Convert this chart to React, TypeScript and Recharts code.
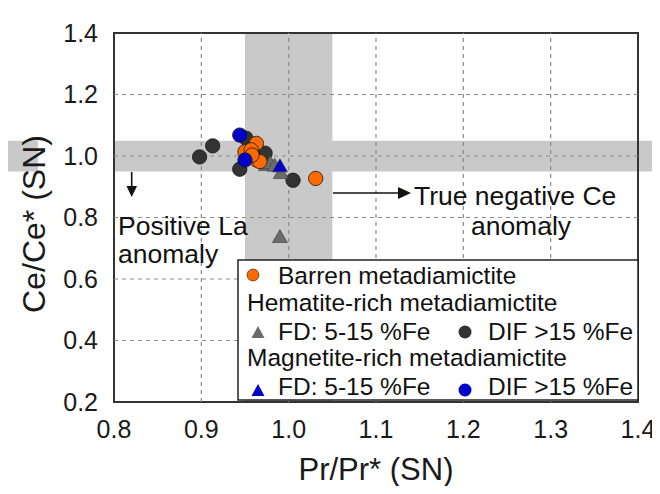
import React from "react";
import { ScatterChart, Scatter, XAxis, YAxis, ReferenceArea, ReferenceLine, Label } from "recharts";

// axis ticks
const xTicks = [0.8, 0.9, 1.0, 1.1, 1.2, 1.3, 1.4];
const yTicks = [0.2, 0.4, 0.6, 0.8, 1.0, 1.2, 1.4];

// Barren metadiamictite
const barrenPr = [0.963, 0.95, 0.957, 0.963, 0.967, 0.958, 1.031];
const barrenCe = [1.041, 1.014, 1.02, 0.987, 0.982, 1.003, 0.927];

// Hematite-rich, FD 5-15 %Fe
const hemFdPr = [0.974, 0.979, 0.984, 0.991, 0.99];
const hemFdCe = [0.972, 0.978, 0.97, 0.946, 0.738];

// Hematite-rich, DIF >15 %Fe
const hemDifPr = [0.898, 0.913, 0.951, 0.944, 0.973, 0.96, 1.005];
const hemDifCe = [0.997, 1.033, 1.058, 0.957, 1.009, 0.998, 0.921];

// Magnetite-rich, FD 5-15 %Fe
const magFdPr = [0.99];
const magFdCe = [0.968];

// Magnetite-rich, DIF >15 %Fe
const magDifPr = [0.944, 0.95];
const magDifCe = [1.068, 0.987];

const toPoints = (xs: number[], ys: number[]) => xs.map((x, i) => ({ x, y: ys[i] }));

const FONT = "'Liberation Sans', Arial, Helvetica, sans-serif";
const ORANGE = "#ff6a00";
const DARK = "#333333";
const GREY = "#6b6b6b";
const BLUE = "#0000c8";
const BAND = "#c9c9c9";

const dot = (fill: string) => (p: any) => (
  <circle cx={p.cx} cy={p.cy} r={7.2} fill={fill} stroke="#1a1a1a" strokeWidth={0.8} />
);

const tri = (fill: string) => (p: any) => (
  <polygon
    points={`${p.cx - 7.5},${p.cy + 6} ${p.cx + 7.5},${p.cy + 6} ${p.cx},${p.cy - 7}`}
    fill={fill}
    stroke="#3a3a3a"
    strokeWidth={0.6}
  />
);

const tickStyle = { fontSize: 25, fill: "#1a1a1a", fontFamily: FONT };

export default function App() {
  return (
    <div style={{ position: "relative", width: 660, height: 494, margin: -8, background: "#fff", fontFamily: FONT }}>
      <ScatterChart width={660} height={494} margin={{ top: 33, right: 22, bottom: 0, left: 0 }}>
        <XAxis
          type="number"
          dataKey="x"
          domain={[0.8, 1.4]}
          ticks={xTicks}
          tickFormatter={(v) => v.toFixed(1)}
          axisLine={false}
          tickLine={false}
          tickMargin={12}
          height={92}
          tick={tickStyle}
          allowDataOverflow
        >
          <Label value="Pr/Pr* (SN)" position="insideBottom" offset={14} style={{ fontSize: 31, fill: "#1a1a1a", fontFamily: FONT }} />
        </XAxis>
        <YAxis
          type="number"
          dataKey="y"
          domain={[0.2, 1.4]}
          ticks={yTicks}
          tickFormatter={(v) => v.toFixed(1)}
          axisLine={false}
          tickLine={false}
          tickMargin={10}
          width={114}
          tick={tickStyle}
          allowDataOverflow
        />

        {/* grey bands */}
        <ReferenceArea x1={0.95} x2={1.05} y1={0.2} y2={1.4} fill={BAND} fillOpacity={1} stroke="none" />
        <ReferenceArea x1={0.8} x2={1.42} y1={0.95} y2={1.05} fill={BAND} fillOpacity={1} stroke="none" ifOverflow="visible" />
        <ReferenceArea x1={0.675} x2={0.713} y1={0.95} y2={1.05} fill={BAND} fillOpacity={1} stroke="none" ifOverflow="visible" />

        {/* dashed grid on top of the bands */}
        {xTicks.slice(1, -1).map((v) => (
          <ReferenceLine key={"gx" + v} x={v} stroke="#8a8a8a" strokeWidth={1.2} strokeDasharray="4 4" />
        ))}
        {yTicks.slice(1, -1).map((v) => (
          <ReferenceLine key={"gy" + v} y={v} stroke="#8a8a8a" strokeWidth={1.2} strokeDasharray="4 4" />
        ))}

        {/* plot frame */}
        <ReferenceArea x1={0.8} x2={1.4} y1={0.2} y2={1.4} fill="none" stroke="#333" strokeWidth={2} />

        <Scatter data={toPoints(hemDifPr, hemDifCe)} shape={dot(DARK)} isAnimationActive={false} />
        <Scatter data={toPoints(hemFdPr, hemFdCe)} shape={tri(GREY)} isAnimationActive={false} />
        <Scatter data={toPoints(barrenPr, barrenCe)} shape={dot(ORANGE)} isAnimationActive={false} />
        <Scatter data={toPoints(magFdPr, magFdCe)} shape={tri(BLUE)} isAnimationActive={false} />
        <Scatter data={toPoints(magDifPr, magDifCe)} shape={dot(BLUE)} isAnimationActive={false} />
      </ScatterChart>

      <svg width={660} height={494} style={{ position: "absolute", left: 0, top: 0, pointerEvents: "none" }} fontFamily={FONT}>
        <rect x={5.5} y={5.5} width={649} height={483} fill="none" stroke="#c4c4c4" strokeWidth={1} />

        <text transform="translate(45,224) rotate(-90)" textAnchor="middle" fontSize={32} fill="#1a1a1a">
          Ce/Ce* (SN)
        </text>

        {/* annotations */}
        <line x1={131.7} y1={172} x2={131.7} y2={188} stroke="#111" strokeWidth={1.6} />
        <polygon points="126.5,186 137,186 131.7,197" fill="#111" />
        <text x={118} y={235} fontSize={26.5} fill="#111">Positive La</text>
        <text x={118} y={263} fontSize={26.5} fill="#111">anomaly</text>

        <line x1={333} y1={193} x2={400} y2={193} stroke="#111" strokeWidth={1.6} />
        <polygon points="398,187 398,199 411,193" fill="#111" />
        <text x={414} y={205} fontSize={26.5} fill="#111">True negative Ce</text>
        <text x={521} y={235} fontSize={26.5} fill="#111" textAnchor="middle">anomaly</text>

        {/* legend */}
        <g transform="translate(238,260)">
          <rect x={0} y={0} width={400} height={140} fill="#fff" stroke="#222" strokeWidth={1.5} />
          <circle cx={15} cy={15} r={6} fill={ORANGE} stroke="#1a1a1a" strokeWidth={0.6} />
          <text x={40} y={24} fontSize={24.5} fill="#111">Barren metadiamictite</text>
          <text x={9} y={51} fontSize={24.5} fill="#111">Hematite-rich metadiamictite</text>
          <polygon points="13.5,78 26.5,78 20,66" fill={GREY} />
          <text x={40} y={80} fontSize={24.5} fill="#111">FD: 5-15 %Fe</text>
          <circle cx={227} cy={72} r={6.5} fill={DARK} />
          <text x={250} y={80} fontSize={24.5} fill="#111">DIF &gt;15 %Fe</text>
          <text x={9} y={106} fontSize={24.5} fill="#111">Magnetite-rich metadiamictite</text>
          <polygon points="13.5,136 26.5,136 20,124" fill={BLUE} />
          <text x={40} y={135} fontSize={24.5} fill="#111">FD: 5-15 %Fe</text>
          <circle cx={227} cy={130} r={6.5} fill={BLUE} />
          <text x={250} y={135} fontSize={24.5} fill="#111">DIF &gt;15 %Fe</text>
        </g>
      </svg>
    </div>
  );
}
